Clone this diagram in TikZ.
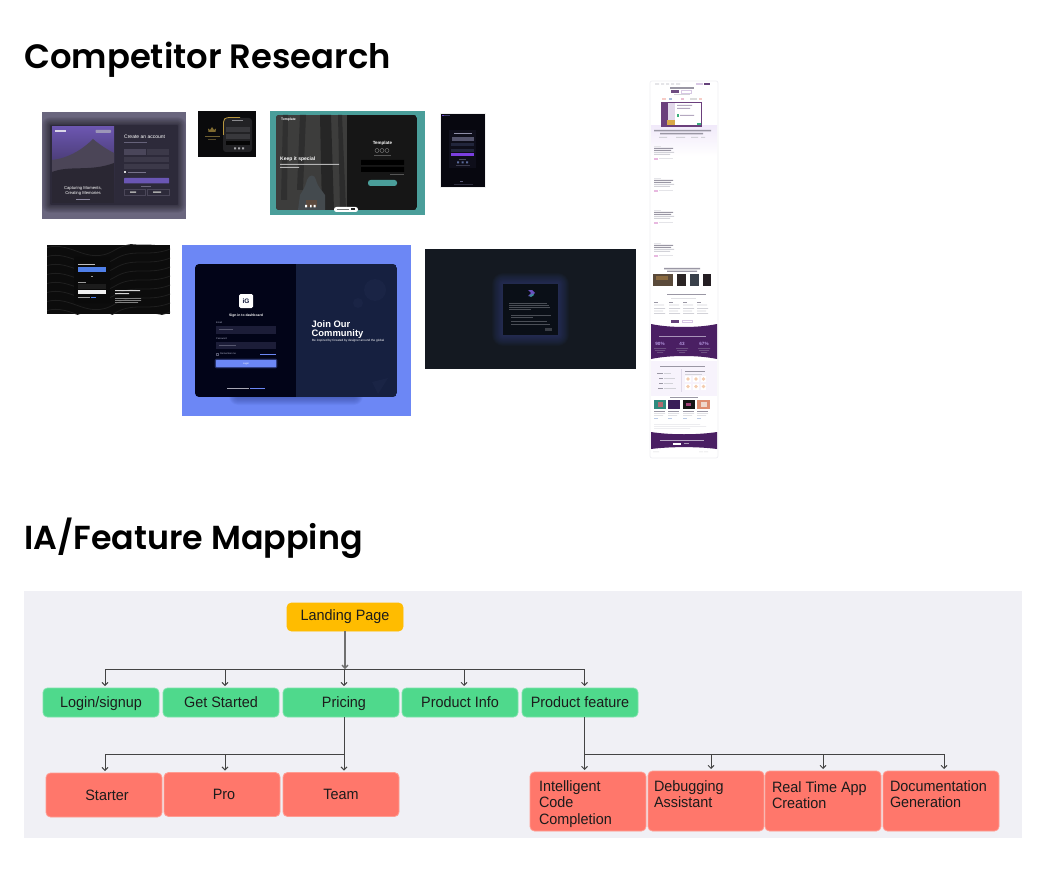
\documentclass[tikz,border=0pt]{standalone}
\usepackage{fontspec}
\setmainfont{Liberation Sans}
\newfontfamily\headfont{Poppins SemiBold}
\newfontfamily\chartfont{Liberation Sans}[FakeStretch=0.96]
\usetikzlibrary{arrows.meta,calc}
\definecolor{panelc}{HTML}{F0F0F5}
\definecolor{yellowc}{HTML}{FFBC00}
\definecolor{greenc}{HTML}{4FD98C}
\definecolor{greenl}{HTML}{7BE3AA}
\definecolor{redc}{HTML}{FF776B}
\definecolor{redl}{HTML}{FF9C92}
\definecolor{linec}{HTML}{444444}
\definecolor{trunkc}{HTML}{707070}
\definecolor{inkc}{HTML}{1C1C1C}
\definecolor{plum}{HTML}{4A1F63}
\definecolor{lilac}{HTML}{F7F3FC}
\definecolor{tbar}{HTML}{D2D2D8}
\definecolor{dbar}{HTML}{9A97A4}
\definecolor{pinkb}{HTML}{E8B9E0}
\definecolor{igc}{HTML}{10183A}
\definecolor{formc}{HTML}{AEB2C8}
\definecolor{numc}{HTML}{B89BE4}
\definecolor{pageb}{HTML}{EFEFF3}
\definecolor{skyt}{HTML}{6C56B0}
\definecolor{skyb}{HTML}{221F33}
\definecolor{lavt}{HTML}{F1EAFA}
\newcommand{\fsz}[1]{\fontsize{#1}{#1}\selectfont}
\newcommand{\softglow}[7]{% x1 y1 x2 y2 colour spread opacity
  \foreach \k in {1,...,14}{
    \pgfmathsetmacro{\rr}{#6*\k/14}
    \fill[#5,opacity=#7,rounded corners=\rr pt]
      ({#1-\rr},{#2-\rr}) rectangle ({#3+\rr},{#4+\rr});
  }}
\newlength{\boxh}\setlength{\boxh}{59pt}
\newcommand{\toptext}[3]{\parbox[c][\boxh][t]{116pt}{\raggedright\leftskip=#1pt\fontsize{15}{16.6}\selectfont\rule{0pt}{#2pt}#3}}
\tikzset{
  HTML/.code={\definecolor{tmpc}{HTML}{#1}\tikzset{color=tmpc}},
  title/.style={anchor=base west,inner sep=0pt,font=\headfont\fontsize{33.3}{36}\selectfont,text=black},
  chartbox/.style={rounded corners=4.5pt,line width=.8pt,minimum width=116pt,inner sep=0pt,outer sep=0pt,text=inkc,font=\chartfont\fontsize{15}{17}\selectfont},
  oneline/.style={text height=12pt,text depth=2pt},
  yellowbox/.style={chartbox,oneline,fill=yellowc,draw=yellowc,minimum height=28pt},
  greenbox/.style={chartbox,oneline,fill=greenc,draw=greenl,minimum height=29pt},
  redbox/.style={chartbox,oneline,fill=redc,draw=redl,minimum height=44pt},
  redtall/.style={chartbox,fill=redc,draw=redl,minimum height=59pt},
  link/.style={draw=linec,line width=.9pt},
  trunk/.style={draw=trunkc,line width=1.3pt,-{Straight Barb[length=3pt,width=6pt]}},
  arrowlink/.style={link,-{Straight Barb[length=3pt,width=6pt]}},
  mini/.style={inner sep=0pt,text=white},
}
\begin{document}
\begin{tikzpicture}[x=1pt,y=-1pt]
\useasboundingbox (0,0) rectangle (1046,885);
\fill[white] (0,0) rectangle (1046,885);

% headings
\node[title,font=\headfont\fontsize{33.8}{36}\selectfont] (h1) at (24,69) {Competitor Research};
\node[title] (h2) at (24,549) {IA/Feature Mapping};

% ---------- thumbnail 1
\fill[HTML=6A667E] (42,112) rectangle (186,219);
\softglow{50}{125}{178}{205}{black}{8}{.035}
\fill[HTML=2D2A3A,rounded corners=1pt] (50,125) rectangle (178,205);
\begin{scope}
\clip (52,127) rectangle (114,203);
\shade[top color=skyt,bottom color=skyb] (52,127) rectangle (114,203);
\fill[HTML=4B4557] (52,160) .. controls (70,158) and (84,148) .. (93,139) .. controls (100,145) and (108,150) .. (114,153) -- (114,203) -- (52,203) -- cycle;
\fill[HTML=2A2733] (52,172) .. controls (70,165) and (90,172) .. (114,163) -- (114,203) -- (52,203) -- cycle;
\end{scope}
\fill[HTML=D9D6E8] (55,130) rectangle (66,132);
\fill[HTML=9C96B8,rounded corners=.6pt] (95.5,130) rectangle (111,132.8);
\node[mini,font=\fsz{4.2},align=center] (t1cap) at (83,191) {Capturing Moments,\\[.7pt]Creating Memories};
\fill[HTML=8D89A0] (76,199.5) rectangle (90,200.5);
\node[mini,font=\fsz{5},anchor=west] (t1head) at (124,137) {Create an account};
\fill[HTML=66627A] (124,142.5) rectangle (147,143.5);
\fill[HTML=4A465A] (124,149) rectangle (145.5,155);
\fill[HTML=3C3949] (147,149) rectangle (169,155);
\fill[HTML=3C3949] (124,157) rectangle (169,162);
\fill[HTML=3C3949] (124,164) rectangle (169,169);
\fill[HTML=D8D8D8] (124,171) rectangle (126,173.5);
\fill[HTML=77738A] (127.5,171.7) rectangle (146,172.7);
\fill[HTML=6A56B4,rounded corners=.5pt] (124,178) rectangle (169,183.5);
\fill[HTML=6A667A] (141,186) rectangle (151,186.6);
\draw[HTML=4A4658,line width=.5pt] (124,189.5) rectangle (145,195) (147,189.5) rectangle (169,195);
\fill[HTML=A8A8A8] (130,191.5) rectangle (136,193) (153,191.5) rectangle (161,193);

% ---------- thumbnail 2
\fill[HTML=0A0A0C] (198,111) rectangle (256,157);
\fill[HTML=222225,rounded corners=3pt] (223,118) rectangle (252,152);
\draw[HTML=B8963E,line width=.8pt] (223.5,135) -- (223.5,122) .. controls (223.5,119) and (225,118) .. (229,117.5) -- (240,117.5);
\fill[HTML=7F6A30] (210,130) -- (212,127) -- (214,130) -- (216,128.5) -- (215.5,132) -- (208.5,132) -- (208,128.5) -- cycle;
\fill[HTML=6F5F30] (204.5,136.5) rectangle (219.5,137.5);
\fill[HTML=554A2C] (208,139.5) rectangle (216,140.3);
\fill[HTML=8A8A8E] (232,120.5) rectangle (243,121.5);
\fill[HTML=38383C] (226,127) rectangle (250,132);
\fill[HTML=38383C] (226,134.5) rectangle (250,139);
\fill[HTML=060606] (226,141) rectangle (250,145);
\fill[HTML=A8A8AC] (234,147.5) rectangle (236,149.5) (238,147.5) rectangle (240,149.5) (242,147.5) rectangle (244,149.5);

% ---------- thumbnail 3
\fill[HTML=4A9E9A] (270,111) rectangle (425,215);
\begin{scope}
\clip[rounded corners=3pt] (276,115) rectangle (417,210);
\fill[HTML=161616] (276,115) rectangle (417,210);
\fill[HTML=3D3D3C] (276,115) rectangle (347,210);
\fill[HTML=2E2E2E] (300,115) -- (306,115) -- (303,190) -- (297,190) -- cycle;
\fill[HTML=262626] (320,115) -- (331,115) -- (334,210) -- (322,210) -- cycle;
\fill[HTML=303030] (283,115) -- (288,115) -- (287,200) -- (281,200) -- cycle;
\fill[HTML=2C2C2C] (338,115) -- (342,115) -- (346,210) -- (340,210) -- cycle;
\fill[HTML=444A4E] (300,195) .. controls (303,190) and (305,188) .. (307,180) .. controls (309,174) and (315,174) .. (316,180) .. controls (318,188) and (322,190) .. (325,195) -- (325,210) -- (298,210) -- cycle;
\fill[HTML=5C4A3E] (306,200) rectangle (317,207);
\end{scope}
\node[mini,font=\bfseries\fsz{5},anchor=west] (t3head) at (280,159) {Keep it special};
\fill[HTML=B4B4B4] (280,164) rectangle (339,165) (280,167) rectangle (299,168);
\node[mini,font=\bfseries\fsz{3.4},anchor=west] (t3logo) at (281,120) {Template};
\node[mini,font=\bfseries\fsz{4.5}] (t3tmpl) at (382.5,143) {Template};
\draw[HTML=888888,line width=.4pt] (377,150.5) circle (2) (382,150.5) circle (2) (387,150.5) circle (2);
\fill[HTML=555555] (374,155.5) rectangle (391,156);
\fill[black] (361,160) rectangle (404,165) (361,167) rectangle (404,172);
\fill[HTML=555555] (390,174) rectangle (404,174.8);
\fill[HTML=4A9E9A,rounded corners=2.5pt] (368,180) rectangle (397,186);
\fill[white] (305,205) rectangle (307,207.5) (310,205) rectangle (311.5,207.5) (313.5,205) rectangle (315.5,207.5);
\fill[white,rounded corners=2.4pt] (334,207) rectangle (358,212);
\fill[HTML=777777] (337,209) rectangle (349,210);
\fill[HTML=222222] (351,208.5) rectangle (355,210.5);

% ---------- thumbnail 4
\fill[HTML=F0F0F0] (439.5,113.5) rectangle (485.5,188.5);
\fill[HTML=07070F] (440.5,114.5) rectangle (484.5,187.5);
\fill[HTML=6A3FD0] (441.5,115.5) rectangle (443.5,116.5);
\fill[HTML=3A3A66] (444,115.5) rectangle (450,116.5);
\fill[HTML=0E0E1A] (449,130) rectangle (476,168);
\fill[HTML=8E8EA8] (454,133) rectangle (472,134);
\fill[HTML=53536B] (452,137) rectangle (474,141);
\fill[HTML=22263C] (451,143) rectangle (474,146.5);
\fill[HTML=22263C] (451,149) rectangle (474,152);
\fill[HTML=7B3FE0] (451,153.5) rectangle (474,156);
\fill[HTML=4A4A5C] (459,159) rectangle (466,159.6);
\fill[HTML=5A6A9A] (457,161.5) rectangle (459,163.5) (461.5,161.5) rectangle (463.5,163.5) (466,161.5) rectangle (468,163.5);
\fill[HTML=3A3A4C] (456,165) rectangle (470,166);
\fill[HTML=5A5A7A] (460,181) rectangle (463,182.5);
\fill[HTML=2C2C3C] (454,184.5) rectangle (473,185.2);

% ---------- thumbnail 5
\fill[HTML=0C0C0C] (47,245) rectangle (170,314);
\begin{scope}
\clip (47,245) rectangle (170,314);
\foreach \dy in {0,9,...,72}{
  \draw[HTML=1F1F1F,line width=.8pt] (40,{250+\dy}) .. controls (70,{236+\dy}) and (85,{268+\dy}) .. (115,{250+\dy}) .. controls (135,{238+\dy}) and (150,{250+\dy}) .. (175,{238+\dy});
}
\end{scope}
\fill[HTML=0A0A0A,rounded corners=1pt] (74,257) rectangle (110,303);
\fill[HTML=BFBFBF] (78,264) rectangle (95,265);
\fill[HTML=4F7FE8] (78,267.5) rectangle (106,272);
\fill[HTML=9A9A9A] (91,276) rectangle (93,277);
\fill[HTML=9A9A9A] (78,282) rectangle (86,283);
\fill[HTML=1C1C1C] (78,284) rectangle (106,288.5);
\fill[HTML=F0F0F0] (78,289.5) rectangle (106,293.5);
\fill[HTML=9A9A9A] (78,297) rectangle (90,298);
\fill[HTML=4F7FE8] (91,297) rectangle (96,298);
\fill[HTML=D6D6D6] (115,290) rectangle (140,291) (115,293) rectangle (129,294);
\fill[HTML=808080] (115,298) rectangle (141,298.8) (115,300) rectangle (141,300.8) (115,302) rectangle (138,302.8);

% ---------- thumbnail 6
\fill[HTML=6C87F5] (182,245) rectangle (411,416);
\softglow{238}{392}{354}{396}{HTML=3D51A8}{9}{.07}
\begin{scope}
\clip[rounded corners=4pt] (195,264) rectangle (397,397);
\fill[HTML=020418] (195,264) rectangle (296,397);
\fill[HTML=162040] (296,264) rectangle (397,397);
\fill[HTML=1A2445] (375,290) circle (11) (358,303) circle (5);
\fill[HTML=1A2445] (372,382) -- (388,378) -- (378,394) -- cycle;
\end{scope}
\fill[white,rounded corners=1.5pt] (239,294) rectangle (253,308);
\node[inner sep=0pt,text=igc,font=\bfseries\fsz{6.5}] (t6ig) at (246,301) {iG};
\node[mini,font=\bfseries\fsz{3.4}] (t6sign) at (246,316) {Sign in to dashboard};
\node[mini,anchor=west,font=\fsz{2.4},text=formc] (t6em) at (216,323) {Email};
\fill[HTML=1C1D38] (216,326) rectangle (276,333.5);
\fill[HTML=55566E] (219,329.3) rectangle (233,330.3);
\node[mini,anchor=west,font=\fsz{2.4},text=formc] (t6pw) at (216,339) {Password};
\fill[HTML=1C1D38] (216,341.5) rectangle (276,349);
\fill[HTML=55566E] (219,344.8) rectangle (236,345.8);
\draw[HTML=55566E,line width=.4pt] (216.5,353) rectangle (218.5,355);
\node[mini,anchor=west,font=\fsz{2.4},text=formc] (t6rm) at (220,354) {Remember me};
\fill[HTML=6C87F5] (260,353.5) rectangle (276,354.5);
\softglow{216}{360}{276}{367}{HTML=6C87F5}{1.6}{.05}
\fill[HTML=6C87F5,rounded corners=.5pt] (216,360) rectangle (276,367);
\node[mini,font=\fsz{2.4}] (t6lg) at (246,363.5) {Login};
\fill[HTML=A8A8B4] (226.5,387.5) rectangle (249,388.5);
\fill[HTML=6C87F5] (250,387.5) rectangle (265,388.5);
\node[mini,anchor=north west,align=left,font=\bfseries\fsz{9.4}] (t6join) at (311.5,320.5) {Join Our\\[-.6pt]Community};
\node[mini,anchor=west,font=\fsz{3.05}] (t6ins) at (312,340.5) {Be inspired by Created by designer around the global};

% ---------- thumbnail 7
\fill[HTML=141921] (425,249) rectangle (636,369);
\softglow{503}{284}{558}{335}{HTML=34427E}{11}{.055}
\fill[HTML=0A0F17] (503,284) rectangle (558,335);
\fill[HTML=6A4FC0] (528,290) -- (532,290) -- (535,293) -- (531,296) -- (528,296) -- (531,293) -- cycle;
\fill[HTML=3F8A9A] (529,296) -- (533,293.5) -- (534,295) -- (531,297) -- cycle;
\foreach \yy/\xa/\xb in {302.5/509/547,304.5/509/549,306.5/509/550,308.5/509/531,315/511/551,317/511/533,320.5/511/547,323.5/511/550}{
  \fill[HTML=4A4E56] (\xa,\yy) rectangle (\xb,\yy+.9);
}
\fill[HTML=3A3E46] (545,328) rectangle (552,331);

% ---------- thumbnail 8 (long page)
\fill[white,draw=pageb,line width=.7pt,rounded corners=2pt] (650,81) rectangle (718,458);
\fill[HTML=D8D8DC] (655,83.5) rectangle (659,84.6) (661,83.5) rectangle (664,84.6) (666,83.5) rectangle (669,84.6) (671,83.5) rectangle (674,84.6) (676,83.5) rectangle (680,84.6);
\fill[HTML=D8C8E4] (696,83) rectangle (703,85);
\fill[plum!85] (704,83) rectangle (710,85);
\fill[dbar] (670,87) rectangle (694,89);
\fill[plum!80] (671,90.5) rectangle (679,93);
\draw[HTML=D8C8E4,line width=.4pt] (681,90.5) rectangle (691,93);
\fill[tbar] (674,94.5) rectangle (690,95.4);
\fill[HTML=F6CCC6] (662,98) rectangle (666,100);
\fill[HTML=A8BCDC] (669,98) rectangle (672,100);
\fill[HTML=EBC0D2] (681,98) rectangle (684,100);
\fill[HTML=DCDCDC] (690,98) rectangle (697,100);
\fill[HTML=F6CCC6] (699,98) rectangle (702,100);
\shade[top color=lavt,bottom color=white] (651,126) rectangle (717,156);
\fill[HTML=6B3F7C] (661,102) rectangle (702,127);
\fill[white] (668,103.5) rectangle (701,125.5);
\fill[HTML=E2D8EA] (668,103.5) rectangle (675,125.5);
\fill[HTML=B5A8C0] (677,105) rectangle (692,106) (677,108) rectangle (690,109) (680,115) rectangle (694,116);
\fill[HTML=3AAE7E] (677,114) rectangle (679,117);
\fill[HTML=D8A848] (667,120) rectangle (675,125);
\fill[HTML=3AAE7E] (697,123) rectangle (701,125.5);
\fill[dbar] (654,130) rectangle (711,131.5) (660,133) rectangle (703,134.5);
\fill[tbar] (659,137) rectangle (667,137.8) (676,137) rectangle (685,137.8) (691,137) rectangle (698,137.8) (701,137) rectangle (705,137.8);
\foreach \sy in {146,178,210,243}{
  \fill[HTML=E4E4E8] (654,\sy) rectangle (661,\sy+.8);
  \fill[dbar] (654,\sy+2) rectangle (673,\sy+3) (654,\sy+4) rectangle (671,\sy+5);
  \fill[tbar] (654,\sy+6) rectangle (674,\sy+6.8) (654,\sy+8) rectangle (670,\sy+8.8);
  \fill[pinkb] (654,\sy+12) rectangle (658,\sy+14);
  \fill[HTML=E4E4E8] (659,\sy+12.3) rectangle (673,\sy+13.1);
}
\fill[dbar] (664,268) rectangle (700,269.3) (667,270.5) rectangle (697,271.8);
\fill[HTML=5A4A3A] (653,274) rectangle (673,286);
\fill[HTML=8A6A40] (656,276) rectangle (668,280);
\fill[HTML=2A2424] (677,274) rectangle (686,286);
\fill[HTML=39404A] (690,274) rectangle (699,286);
\fill[HTML=241E22] (703,274) rectangle (711,286);
\fill[dbar] (667,294) rectangle (706,295.4);
\fill[HTML=E0E0E4] (671,298) rectangle (696,298.8);
\foreach \cx in {654,669,683,697}{
  \fill[dbar] (\cx,302) rectangle (\cx+4,303);
  \fill[tbar] (\cx,304.5) rectangle (\cx+10,305.3) (\cx,308) rectangle (\cx+11,308.8) (\cx,310.5) rectangle (\cx+9,311.3) (\cx,313) rectangle (\cx+11,313.8);
}
\fill[plum!85] (671,320) rectangle (679,322.5);
\draw[HTML=D8C8E4,line width=.4pt] (682,320) rectangle (692,322.5);
\fill[plum] (651,324) .. controls (670,328) and (698,328) .. (717,324) -- (717,359) .. controls (698,355) and (670,355) .. (651,359) -- cycle;
\fill[HTML=A894B8] (659,336) rectangle (706,337.3);
\node[mini,font=\bfseries\fsz{4.6},text=numc] (t8a) at (660,344) {90\%};
\node[mini,font=\bfseries\fsz{4.6},text=numc] (t8b) at (682,344) {43};
\node[mini,font=\bfseries\fsz{4.6},text=numc] (t8c) at (704,344) {67\%};
\foreach \cx/\cw in {654/12,676/12,698/12}{
  \fill[HTML=7E6890] (\cx,348) rectangle (\cx+\cw,348.7) (\cx+1,350) rectangle (\cx+\cw-1,350.7) (\cx+3,352) rectangle (\cx+\cw-3,352.7);
}
\fill[lilac] (651,361) rectangle (717,396);
\fill[dbar] (660,365.5) rectangle (705,367);
\fill[dbar] (657,372.5) rectangle (663,374);
\fill[tbar] (664,373) rectangle (671,373.8);
\fill[dbar] (659,377.5) rectangle (663,379);
\fill[tbar] (664,378) rectangle (675,378.8);
\fill[dbar] (659,382.5) rectangle (663,384);
\fill[tbar] (664,383) rectangle (673,383.8);
\fill[dbar] (658,387.5) rectangle (663,389);
\fill[tbar] (664,388) rectangle (676,388.8);
\draw[HTML=E0DAEA,line width=.4pt] (681.5,369) -- (681.5,392);
\fill[dbar] (685,371) rectangle (705,372);
\fill[tbar] (685,373.5) rectangle (702,374.2);
\foreach \bx in {688,696,703.5}{\foreach \by in {379,386.5}{
  \fill[white] (\bx-2.8,\by-3) rectangle (\bx+2.8,\by+3);
  \fill[HTML=F4CCAE] (\bx,\by) circle (1.9);
}}
\fill[dbar] (670,396.5) rectangle (698,397.6);
\fill[HTML=2E8A7E] (654,400) rectangle (666,409);
\fill[HTML=B06A70] (658,402) rectangle (663,407);
\fill[HTML=3A1E58] (668,400) rectangle (680,409);
\fill[HTML=151515] (683,400) rectangle (695,409);
\fill[HTML=A04078] (686,403) rectangle (691,406);
\fill[HTML=DE8E70] (697,400) rectangle (710,409);
\fill[HTML=EFD8CC] (701,402) rectangle (707,407);
\foreach \cx in {654,668,683,697}{
  \fill[dbar] (\cx,411) rectangle (\cx+11,411.8);
  \fill[tbar] (\cx,413) rectangle (\cx+11,413.7) (\cx,415) rectangle (\cx+9,415.7);
  \fill[HTML=BBCBE6] (\cx,417.5) rectangle (\cx+4,418.2);
}
\fill[HTML=E4E4E8] (654,424) rectangle (700,424.6) (654,426) rectangle (706,426.6) (654,428) rectangle (690,428.6);
\fill[plum] (651,432) .. controls (670,435) and (698,435) .. (717,432) -- (717,449) .. controls (698,446.5) and (670,446.5) .. (651,449) -- cycle;
\fill[HTML=B8A8C4] (660,439.5) rectangle (704,441);
\fill[white] (673,442.5) rectangle (681,445);
\fill[HTML=A898B4] (684,443.3) rectangle (689,444);
\fill[HTML=D8D8DC] (653,451.5) rectangle (659,452.2) (699,451.5) rectangle (703,452.2) (704,451.5) rectangle (708,452.2);

% ---------- chart
\fill[panelc] (24,591) rectangle (1022,838);
\node[yellowbox] (landing) at (345,617) {\raisebox{2pt}{Landing Page}};
\coordinate (busA) at (345,669);
\node[greenbox] (login) at (101,702.5) {Login/signup};
\node[greenbox] (started) at (221,702.5) {Get Started};
\node[greenbox] (pricing) at (341,702.5) {\hspace{6pt}Pricing};
\node[greenbox] (info) at (460,702.5) {Product Info};
\node[greenbox] (feature) at (580,702.5) {Product feature};
\node[redbox] (starter) at (104,795) {\hspace{6pt}Starter};
\node[redbox] (pro) at (222,794.5) {\hspace{4pt}Pro};
\node[redbox] (team) at (341,794.5) {Team};
\node[redtall] (code) at (588,801.5) {\toptext{9}{19}{Intelligent\\Code\\Completion}};
\setlength{\boxh}{60pt}
\node[redtall,minimum height=60pt] (debug) at (706,801) {\toptext{6}{20}{Debugging\\Assistant}};
\node[redtall,minimum height=60pt] (realtime) at (823,801) {\toptext{7}{21}{Real Time App\\Creation}};
\node[redtall,minimum height=60pt] (docs) at (941,801) {\toptext{7}{20}{Documentation\\Generation}};

\coordinate (busB) at (344,754);
\coordinate (busC) at (584.5,754);

\draw[trunk] (landing.south) -- (busA);
\draw[arrowlink] (busA) -| ([xshift=4pt,yshift=2pt]login.north);
\draw[arrowlink] (busA) -| ([xshift=4pt,yshift=2pt]started.north);
\draw[arrowlink] (busA) -| ([xshift=3pt,yshift=2pt]pricing.north);
\draw[arrowlink] (busA) -| ([xshift=4pt,yshift=2pt]info.north);
\draw[arrowlink] (busA) -| ([xshift=4.5pt,yshift=2pt]feature.north);

\draw[link] ([xshift=3pt]pricing.south) -- (busB);
\draw[arrowlink] (busB) -| ([xshift=1pt,yshift=2pt]starter.north);
\draw[arrowlink] (busB) -| ([xshift=3pt,yshift=2pt]pro.north);
\draw[arrowlink] (busB) -- ([xshift=3pt,yshift=2pt]team.north);

\draw[link] ([xshift=4.5pt]feature.south) -- (busC);
\draw[arrowlink] (busC) -- ([xshift=-3.5pt,yshift=2pt]code.north);
\draw[arrowlink] (busC) -| ([xshift=5pt,yshift=2pt]debug.north);
\draw[arrowlink] (busC) -| ([yshift=2pt]realtime.north);
\draw[arrowlink] (busC) -| ([xshift=3pt,yshift=2pt]docs.north);
\end{tikzpicture}
\end{document}
